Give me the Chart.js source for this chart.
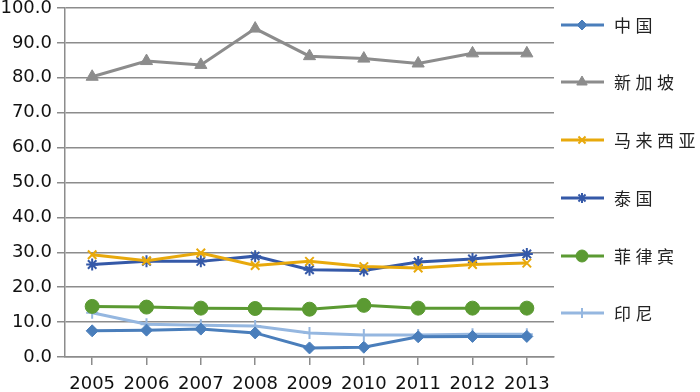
<!DOCTYPE html>
<html><head><meta charset="utf-8">
<script src="https://cdn.jsdelivr.net/npm/chart.js@4/dist/chart.umd.min.js"></script>
<style>html,body{margin:0;padding:0;background:#fff;}#wrap{width:700px;height:392px;position:relative;}</style>
</head><body><div id="wrap"><canvas id="c" width="700" height="392"></canvas></div>
<script>
const years = ['2005','2006','2007','2008','2009','2010','2011','2012','2013'];
const seriesNames = ['中国','新加坡','马来西亚','泰国','菲律宾','印尼'];
const china = [7.5, 7.7, 8.0, 6.9, 2.6, 2.8, 5.8, 5.9, 5.9];
const singapore = [80.3, 84.8, 83.7, 94.1, 86.2, 85.5, 84.1, 87.0, 87.0];
const malaysia = [29.3, 27.6, 29.8, 26.2, 27.4, 25.9, 25.5, 26.5, 26.9];
const thailand = [26.5, 27.4, 27.4, 28.9, 25.0, 24.8, 27.2, 28.1, 29.5];
const philippines = [14.5, 14.3, 14.0, 13.9, 13.7, 14.8, 14.0, 14.0, 14.0];
const indonesia = [12.7, 9.4, 9.1, 8.9, 6.9, 6.3, 6.3, 6.5, 6.5];
const yTicks = [0,10,20,30,40,50,60,70,80,90,100];

const colors = ['#4A7EBB','#8C8C8C','#E8A90C','#3559A8','#5B9A32','#95B7E0'];
const styles = ['rectRot','triangle','crossRot','star','circle','cross'];
const radii = [6,7,6,6,7,6];
const values = [china, singapore, malaysia, thailand, philippines, indonesia];

const datasets = seriesNames.map((n,i)=>({
  label:n, data:values[i], borderColor:colors[i], backgroundColor:colors[i],
  borderWidth:3, pointStyle:styles[i], pointRadius:radii[i], pointBorderWidth: (styles[i]==='crossRot'||styles[i]==='star'||styles[i]==='cross')?2:1,
  pointBorderColor:colors[i], pointBackgroundColor:colors[i], tension:0, fill:false
}));

const legendPlugin = {
  id:'customLegend',
  afterDraw(chart){
    const ctx = chart.ctx;
    const ys = [25,82,140,198,256,313];
    chart.data.datasets.forEach((ds,i)=>{
      const y = ys[i];
      ctx.save();
      ctx.strokeStyle = ds.borderColor; ctx.lineWidth = 3;
      ctx.beginPath(); ctx.moveTo(561,y); ctx.lineTo(604,y); ctx.stroke();
      ctx.fillStyle = ds.backgroundColor; ctx.strokeStyle = ds.borderColor;
      ctx.lineWidth = ds.pointBorderWidth;
      Chart.helpers.drawPoint(ctx,{pointStyle:ds.pointStyle,radius:ds.pointRadius-1,rotation:0,borderWidth:ds.pointBorderWidth},582,y);
      ctx.fillStyle = '#222';
      ctx.font = '17px "Noto Sans CJK SC"';
      ctx.textBaseline = 'middle';
      let x = 614;
      for (const ch of ds.label){ ctx.fillText(ch,x,y+1); x += 21.5; }
      ctx.restore();
    });
  }
};

new Chart(document.getElementById('c'),{
  type:'line',
  data:{labels:years, datasets},
  options:{
    responsive:false, animation:false,
    layout:{padding:{top:6,right:146,left:0,bottom:0}},
    plugins:{legend:{display:false},tooltip:{enabled:false}},
    scales:{
      x:{
        offset:true,
        grid:{display:true, drawOnChartArea:false, drawTicks:true, tickLength:8, offset:false, color:'#8C8C8C', lineWidth:1.5},
        border:{display:true,color:'#8C8C8C',width:1.5},
        ticks:{color:'#111', font:{family:'DejaVu Sans', size:18}, padding:9, maxRotation:0, autoSkip:false},
        afterFit(s){ s.height = 35; }
      },
      y:{
        min:0,max:100,
        afterBuildTicks(s){ s.ticks = yTicks.map(v=>({value:v})); },
        grid:{color:'#8C8C8C', lineWidth:1.5, tickLength:8, drawTicks:true},
        border:{display:true,color:'#8C8C8C',width:1.5},
        ticks:{color:'#111', font:{family:'DejaVu Sans', size:18}, padding:5, callback:v=>Number(v).toFixed(1)},
        afterFit(s){ s.width = 65; s.paddingTop = 0; s.paddingBottom = 0; }
      }
    }
  },
  plugins:[legendPlugin]
});
</script></body></html>
